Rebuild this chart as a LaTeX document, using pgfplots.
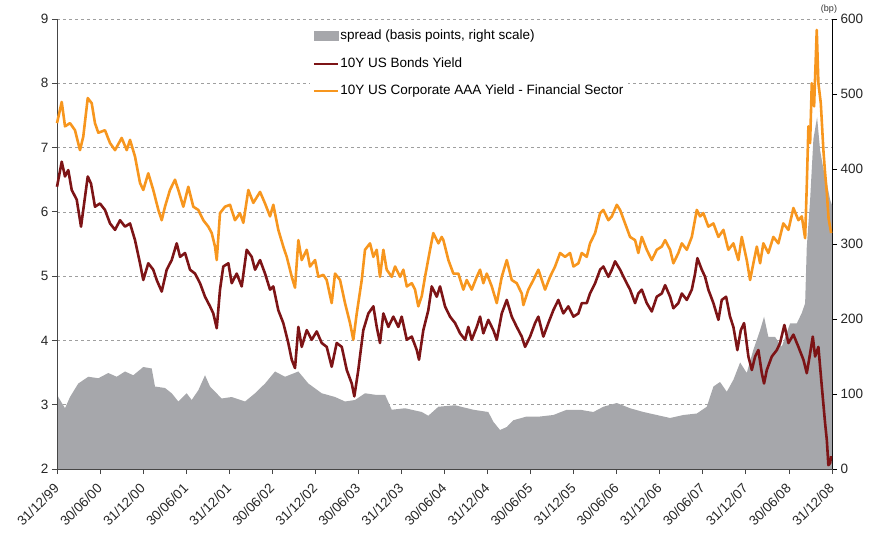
\documentclass[border=0pt]{standalone}
\usepackage{pgfplots}
\usepackage{pgfplotstable}
\pgfplotsset{compat=1.18}
\usepackage{fontspec}
\setmainfont{Liberation Sans}
\definecolor{corp}{RGB}{247,150,30}
\definecolor{bond}{RGB}{125,20,22}
\definecolor{spreadc}{RGB}{166,167,171}
\definecolor{axisc}{RGB}{70,70,70}

\pgfplotstableread{
t v
0.000 7.38
0.055 7.71
0.093 7.33
0.151 7.38
0.209 7.27
0.267 6.96
0.305 7.17
0.357 7.77
0.403 7.69
0.441 7.38
0.480 7.23
0.557 7.27
0.616 7.07
0.674 6.96
0.751 7.15
0.810 6.96
0.848 7.12
0.906 6.86
0.964 6.45
1.002 6.34
1.060 6.60
1.118 6.34
1.177 6.03
1.216 5.87
1.254 6.08
1.312 6.34
1.370 6.50
1.409 6.34
1.467 6.08
1.525 6.39
1.583 6.08
1.641 6.03
1.699 5.87
1.757 5.77
1.797 5.67
1.835 5.46
1.855 5.25
1.893 5.98
1.951 6.08
2.009 6.11
2.067 5.87
2.125 5.98
2.164 5.83
2.222 6.34
2.280 6.14
2.358 6.31
2.416 6.13
2.474 5.93
2.512 6.11
2.570 5.72
2.628 5.46
2.668 5.30
2.726 4.99
2.764 4.82
2.803 5.56
2.842 5.25
2.900 5.41
2.938 5.15
2.997 5.25
3.035 4.99
3.093 5.02
3.132 4.94
3.190 4.58
3.229 5.04
3.287 4.94
3.345 4.58
3.403 4.27
3.441 4.01
3.481 4.42
3.539 4.94
3.577 5.41
3.635 5.51
3.674 5.30
3.713 5.41
3.751 4.99
3.790 5.41
3.829 5.10
3.887 4.99
3.926 5.15
3.984 4.99
4.022 5.10
4.062 4.84
4.120 4.89
4.158 4.79
4.196 4.53
4.236 4.69
4.274 4.99
4.332 5.41
4.370 5.67
4.429 5.51
4.468 5.61
4.487 5.56
4.545 5.25
4.603 5.04
4.661 5.04
4.719 4.79
4.758 4.94
4.816 4.79
4.875 4.99
4.913 5.10
4.951 4.89
4.991 5.04
5.049 4.84
5.107 4.58
5.165 4.99
5.223 5.25
5.281 4.94
5.339 4.89
5.397 4.73
5.416 4.55
5.474 4.79
5.532 4.94
5.590 5.10
5.668 4.79
5.726 4.99
5.784 5.15
5.842 5.36
5.900 5.30
5.958 5.36
5.997 5.15
6.055 5.20
6.094 5.36
6.152 5.30
6.190 5.51
6.249 5.67
6.307 5.98
6.345 6.03
6.403 5.87
6.443 5.93
6.501 6.11
6.539 6.03
6.597 5.82
6.655 5.61
6.713 5.56
6.751 5.36
6.791 5.61
6.849 5.41
6.907 5.25
6.965 5.41
7.023 5.46
7.062 5.56
7.120 5.41
7.158 5.20
7.216 5.36
7.256 5.51
7.314 5.41
7.372 5.61
7.430 6.03
7.468 5.93
7.506 5.98
7.564 5.77
7.623 5.82
7.681 5.61
7.739 5.72
7.797 5.41
7.855 5.51
7.913 5.25
7.952 5.61
8.010 5.25
8.049 4.94
8.087 5.20
8.127 5.46
8.165 5.20
8.203 5.51
8.261 5.36
8.319 5.61
8.377 5.51
8.435 5.82
8.494 5.72
8.552 6.06
8.610 5.87
8.649 5.93
8.688 5.59
8.707 6.40
8.726 7.33
8.746 7.07
8.765 8.00
8.792 7.64
8.823 8.83
8.842 8.00
8.870 7.69
8.900 6.96
8.920 6.60
8.940 6.30
8.960 5.90
8.990 5.67
}\corptable

\pgfplotstableread{
t v
0.000 6.39
0.055 6.78
0.093 6.55
0.131 6.65
0.171 6.34
0.229 6.19
0.279 5.77
0.305 6.03
0.357 6.55
0.395 6.44
0.441 6.08
0.499 6.13
0.557 6.03
0.616 5.82
0.674 5.72
0.732 5.87
0.790 5.77
0.848 5.82
0.906 5.56
0.964 5.20
1.002 4.94
1.060 5.20
1.118 5.10
1.158 4.94
1.216 4.76
1.274 5.10
1.332 5.25
1.390 5.51
1.429 5.30
1.487 5.36
1.545 5.10
1.603 5.04
1.661 4.89
1.719 4.68
1.777 4.53
1.815 4.42
1.855 4.19
1.893 4.79
1.931 5.15
1.990 5.20
2.029 4.89
2.087 5.04
2.145 4.84
2.203 5.41
2.261 5.30
2.300 5.10
2.358 5.25
2.416 5.04
2.474 4.79
2.512 4.84
2.570 4.47
2.628 4.27
2.686 3.96
2.726 3.70
2.764 3.57
2.803 4.21
2.842 3.90
2.900 4.16
2.958 4.01
3.016 4.14
3.074 3.96
3.132 3.90
3.190 3.59
3.248 3.96
3.307 3.90
3.365 3.54
3.423 3.33
3.453 3.13
3.499 3.54
3.557 4.16
3.616 4.42
3.674 4.53
3.713 4.21
3.751 3.96
3.790 4.42
3.848 4.21
3.906 4.37
3.964 4.21
4.003 4.37
4.062 4.01
4.120 4.06
4.178 3.85
4.204 3.70
4.254 4.16
4.312 4.47
4.352 4.84
4.410 4.68
4.448 4.84
4.506 4.53
4.564 4.37
4.623 4.27
4.681 4.11
4.739 4.01
4.777 4.21
4.816 4.01
4.875 4.21
4.913 4.37
4.951 4.11
5.009 4.32
5.067 4.16
5.107 4.01
5.165 4.42
5.223 4.63
5.281 4.37
5.339 4.21
5.397 4.06
5.436 3.90
5.494 4.06
5.552 4.27
5.590 4.37
5.648 4.06
5.706 4.27
5.764 4.47
5.822 4.63
5.880 4.42
5.938 4.53
5.997 4.37
6.055 4.42
6.094 4.58
6.152 4.58
6.190 4.73
6.249 4.89
6.307 5.10
6.345 5.15
6.403 4.99
6.443 5.10
6.481 5.23
6.539 5.10
6.597 4.94
6.655 4.79
6.713 4.58
6.751 4.73
6.791 4.79
6.849 4.58
6.907 4.45
6.965 4.68
7.023 4.73
7.062 4.86
7.120 4.68
7.158 4.50
7.216 4.58
7.256 4.73
7.314 4.63
7.372 4.79
7.410 5.04
7.437 5.28
7.488 5.10
7.526 4.99
7.564 4.79
7.623 4.58
7.681 4.32
7.720 4.63
7.770 4.68
7.816 4.37
7.855 4.21
7.901 3.85
7.941 4.16
7.979 4.27
8.029 3.75
8.069 3.54
8.107 3.75
8.145 3.85
8.185 3.49
8.211 3.33
8.243 3.54
8.301 3.75
8.359 3.85
8.397 3.96
8.447 4.24
8.494 3.96
8.552 4.09
8.610 3.90
8.668 3.70
8.707 3.49
8.746 3.80
8.777 4.06
8.804 3.75
8.842 3.90
8.882 3.28
8.920 2.71
8.940 2.45
8.958 2.06
8.978 2.09
8.990 2.20
}\bondtable

\pgfplotstableread{
t v
0.000 99
0.015 96
0.093 81
0.151 96
0.247 114
0.364 123
0.480 121
0.596 128
0.693 123
0.790 130
0.886 125
1.002 136
1.100 134
1.138 110
1.254 108
1.332 101
1.409 90
1.506 101
1.564 92
1.641 105
1.719 125
1.777 110
1.835 103
1.913 94
2.029 96
2.184 90
2.300 101
2.416 114
2.532 130
2.648 123
2.803 130
2.919 114
3.074 101
3.229 96
3.345 90
3.461 92
3.577 101
3.693 99
3.810 99
3.887 79
4.042 81
4.236 76
4.312 71
4.429 83
4.623 85
4.835 79
5.009 76
5.067 63
5.145 52
5.223 56
5.300 65
5.455 70
5.610 70
5.764 72
5.920 79
6.074 79
6.229 76
6.345 83
6.501 88
6.655 81
6.810 76
6.965 72
7.120 68
7.274 72
7.430 74
7.546 83
7.623 110
7.700 116
7.778 103
7.855 119
7.933 142
8.010 128
8.087 159
8.165 185
8.211 203
8.261 176
8.339 176
8.417 163
8.513 194
8.591 194
8.649 208
8.688 221
8.707 296
8.746 359
8.784 440
8.827 469
8.862 425
8.900 400
8.940 381
8.978 359
9.000 352
}\spreadtable

\begin{document}
\begin{tikzpicture}
\useasboundingbox (-57pt,-69pt) rectangle (815pt,469pt);
\pgfplotsset{base/.style={scale only axis, width=775pt, height=450pt,
  at={(0,0)}, anchor=south west, xmin=0, xmax=9,
  /pgf/number format/assume math mode=true,
  tick label style={font=\fontsize{13.5}{16}\selectfont, text=black!85}}}
% grid
\begin{axis}[base, ymin=2, ymax=9, ytick={3,...,9}, xtick=\empty,
  ymajorgrids, grid style={dashed, gray!75, line width=0.6pt},
  axis line style={draw=none}, yticklabels={}, major tick length=0pt]
\end{axis}
% spread (right scale)
\begin{axis}[base, ymin=0, ymax=600, axis y line*=right, axis x line=none,
  ytick={0,100,...,600}, tick align=outside, major tick length=5pt,
  axis line style={black, line width=0.9pt}, tick style={black, line width=0.8pt}]
\addplot[fill=spreadc, draw=none] table {\spreadtable} \closedcycle;
\end{axis}
% yields (left scale)
\begin{axis}[base, ymin=2, ymax=9, clip=false,
  axis x line*=bottom, axis y line*=left,
  ytick={2,...,9}, xtick={0,0.5,...,9},
  xticklabels={31/12/99,30/06/00,31/12/00,30/06/01,31/12/01,30/06/02,31/12/02,30/06/03,31/12/03,30/06/04,31/12/04,30/06/05,31/12/05,30/06/06,31/12/06,30/06/07,31/12/07,30/06/08,31/12/08},
  xticklabel style={xshift=-4pt, yshift=-7pt, rotate=45, anchor=north east, inner sep=1pt},
  tick align=outside, major tick length=5pt,
  axis line style={axisc, line width=1pt}, tick style={axisc, line width=0.8pt},
  legend cell align=left,
  legend image code/.code={\draw[#1, line width=2pt] (0pt,0pt) -- (24pt,0pt);},
  legend style={draw=none, fill=white, at={(0.326,0.988)}, anchor=north west,
    font=\fontsize{13.5}{16}\selectfont, inner sep=3pt, row sep=10.5pt, column sep=0pt,
    nodes={inner xsep=1.5pt, inner ysep=2pt, text height=10pt, text depth=3pt}}]
\addlegendimage{legend image code/.code={\fill[spreadc] (0pt,-4.5pt) rectangle (24pt,4.5pt);}}
\addlegendentry{spread (basis points, right scale)}
\addplot[bond, line width=2.6pt, line join=round] table {\bondtable};
\addlegendentry{10Y US Bonds Yield}
\addplot[corp, line width=2.6pt, line join=round] table {\corptable};
\addlegendentry{10Y US Corporate AAA Yield - Financial Sector}
\node[anchor=south, xshift=-3pt, yshift=2pt, font=\fontsize{9}{10}\selectfont, text=black!80] at (rel axis cs:1,1) {(bp)};
\end{axis}
\end{tikzpicture}
\end{document}
